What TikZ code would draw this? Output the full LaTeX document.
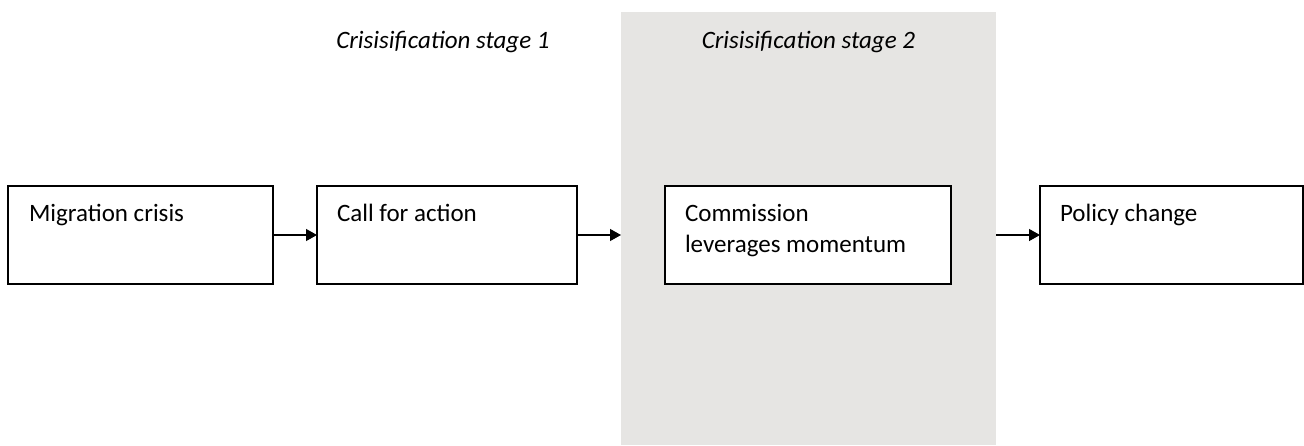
\documentclass[tikz,border=0pt]{standalone}
\usepackage{fontspec}
\setmainfont{Carlito}
\usetikzlibrary{arrows.meta}
\definecolor{stagegray}{RGB}{230,229,227}
\begin{document}
\begin{tikzpicture}[x=0.5pt,y=-0.5pt]
\tikzset{ >={Triangle[length=5.5pt,width=6pt]}, inner sep=0pt, outer sep=0pt,
  box/.style={draw, fill=white, line width=1pt, rectangle, anchor=north west, minimum height=49pt},
  boxtext/.style={font=\fontsize{12.5}{15.5}\selectfont, align=left, anchor=base west},
  stagetext/.style={font=\fontsize{12.5}{15.5}\selectfont\itshape, anchor=base},
}

\useasboundingbox (0,0) rectangle (1304,445);

% shaded second stage
\node [fill=stagegray, anchor=north west, minimum width=187.5pt, minimum height=216.5pt] (S2) at (621,12) {};

\node [box, minimum width=132.5pt] (M) at (8,186)    {};
\node [box, minimum width=130pt]   (C) at (317,186)  {};
\node [box, minimum width=143pt]   (L) at (665,186)  {};
\node [box, minimum width=131.5pt] (P) at (1040,186) {};

\node [boxtext] (Mt) at ([shift={(21,35)}]M.north west) {Migration crisis};
\node [boxtext] (Ct) at ([shift={(20,35)}]C.north west) {Call for action};
% base of a two-line node sits on its last line
\node [boxtext] (Lt) at ([shift={(20,66)}]L.north west) {Commission\\leverages momentum};
\node [boxtext] (Pt) at ([shift={(20,35)}]P.north west) {Policy change};

\node [stagetext] (S1t) at (443,48) {Crisisification stage 1};
\node [stagetext] (S2t) at (S2.north |- 0,48) {Crisisification stage 2};

\draw [->, line width=0.6pt] (M.east) -- (C.west);
\draw [->, line width=0.6pt] (C.east) -- (C.east -| S2.west);
\draw [->, line width=0.6pt] (S2.east |- P.west) -- (P.west);

\end{tikzpicture}
\end{document}
